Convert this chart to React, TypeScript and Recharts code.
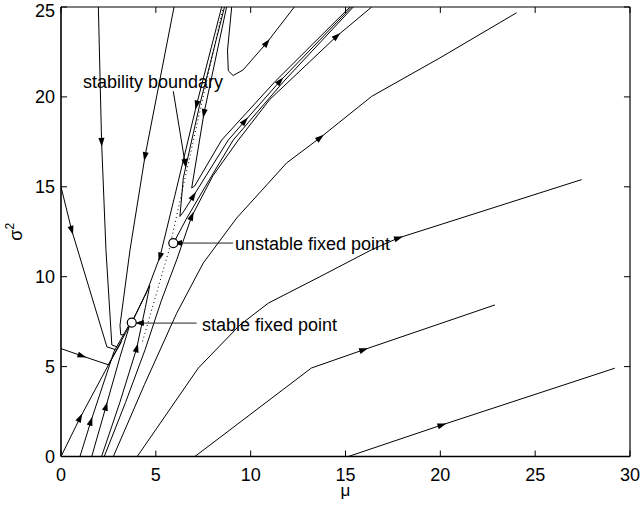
import { ComposedChart, Line, Scatter, XAxis, YAxis, ReferenceLine } from 'recharts';

// trajectories in (mu, sigma^2), listed in the direction of flow; a third value 1 marks an arrow
const fromOrigin = [[0, 0], [1.0, 2.14, 1], [3.62, 7.3]];
const fromMu1 = [[1.0, 0], [1.57, 1.94, 1], [2.8, 5.85], [3.55, 7.25]];
const fromMu16 = [[1.62, 0], [2.37, 2.77, 1], [3.1, 5.5], [3.62, 7.3]];
const loopTraj = [[2.14, 0], [3.1, 3.0], [3.99, 6.02, 1], [4.45, 8.3], [4.68, 9.5], [4.6, 9.35], [3.8, 7.6]];
const feeder = [[2.28, 0], [3.4, 3.0], [4.43, 5.93], [5.3, 8.7], [6.1, 10.94], [6.89, 13.35, 1], [8.0, 15.6], [9.35, 17.6], [11.0, 19.85], [14.53, 23.37, 1], [16.38, 25]];
const leftEdge15 = [[0, 15], [0.56, 12.6, 1], [2.42, 6.1], [2.85, 5.95]];
const leftEdge6 = [[0, 6], [1.09, 5.6, 1], [2.5, 5.1], [3.2, 6.4]];
const topMu2 = [[1.97, 25], [2.14, 17.5, 1], [2.37, 11.5], [2.68, 6.2], [2.95, 6.1]];
const topMu6 = [[5.96, 25], [4.43, 16.7, 1], [3.64, 11.5], [3.11, 7.3], [3.15, 6.77], [3.37, 6.77]];
const channelLeft = [[8.47, 25], [7.15, 19.57, 1], [6.0, 14.5], [5.22, 11.12, 1], [4.5, 9.1], [3.73, 7.45]];
const channelRight = [[8.73, 25], [7.54, 19.1, 1], [6.89, 14.93], [7.05, 15.05], [8.47, 17.6], [11.3, 20.87], [15.23, 25]];
const cuspTraj = [[8.62, 25], [7.3, 19.5], [6.45, 15.5], [6.27, 13.35], [6.45, 13.6], [6.97, 14.47, 1], [8.82, 17.6], [9.68, 18.64, 1], [11.54, 20.87, 1], [15.32, 25]];
const unstableBranch = [[6.05, 12.1], [6.6, 13.2], [7.6, 15.0], [9.08, 17.6], [11.75, 20.87], [15.41, 25]];
const hyperbola = [[9.0, 25], [8.78, 22.6], [8.82, 21.45], [9.08, 21.19], [9.6, 21.5], [10.84, 23.0, 1], [12.3, 25]];
const midRight = [[2.76, 0], [4.4, 4.0], [6.1, 7.97], [7.5, 10.76], [9.26, 13.26], [11.9, 16.33], [13.65, 17.72, 1], [16.38, 20.03], [19.98, 22.17], [24.02, 24.68]];
const lowRight1 = [[4.02, 0], [7.24, 4.92], [9.44, 7.32], [10.93, 8.53], [13.65, 10.0], [16.38, 11.5], [17.78, 12.15, 1], [27.45, 15.4]];
const lowRight2 = [[7.06, 0], [13.2, 4.92], [15.94, 5.93, 1], [22.88, 8.43]];
const lowRight3 = [[15.15, 0], [20.07, 1.75, 1], [29.2, 4.91]];
const boundary = [[4.3, 6.4], [5.7, 11.5], [8.55, 25]];

const trajectories = [
  fromOrigin, fromMu1, fromMu16, loopTraj, feeder, leftEdge15, leftEdge6, topMu2, topMu6,
  channelLeft, channelRight, cuspTraj, unstableBranch, hyperbola, midRight, lowRight1, lowRight2, lowRight3,
];

const stablePoint = [[3.73, 7.45]];
const unstablePoint = [[5.92, 11.87]];

// annotation pointers (arrow at the end)
const pointerBoundary = [[5.92, 20.31], [6.54, 16.33, 1]];
const pointerUnstable = [[9.07, 11.87], [6.17, 11.87, 1]];
const pointerStable = [[7.15, 7.42], [4.16, 7.42, 1]];

const labels = [
  { x: 1.16, y: 20.5, text: 'stability boundary' },
  { x: 9.17, y: 11.5, text: 'unstable fixed point' },
  { x: 7.43, y: 7.0, text: 'stable fixed point' },
];

const xTicks = [0, 5, 10, 15, 20, 25, 30];
const yTicks = [0, 5, 10, 15, 20, 25];

const toPts = (arr: number[][]) => arr.map(([x, y, a]) => ({ x, y, arrow: a === 1 }));

const FONT = 'Liberation Sans, Arial, Helvetica, sans-serif';

const ArrowDot = (props: any) => {
  const { cx, cy, index, points, payload } = props;
  if (!payload || !payload.arrow || !points) return <g />;
  const prev = points[Math.max(0, index - 1)];
  const next = points[Math.min(points.length - 1, index + 1)];
  const ang = Math.atan2(next.y - prev.y, next.x - prev.x);
  const c = Math.cos(ang);
  const s = Math.sin(ang);
  const tip = [cx + 5 * c, cy + 5 * s];
  const b1 = [cx - 4 * c - 3 * s, cy - 4 * s + 3 * c];
  const b2 = [cx - 4 * c + 3 * s, cy - 4 * s - 3 * c];
  return <polygon points={`${tip[0]},${tip[1]} ${b1[0]},${b1[1]} ${b2[0]},${b2[1]}`} fill='#000' stroke='none' />;
};

const CircleShape = (props: any) => (
  <circle cx={props.cx} cy={props.cy} r={4.5} fill='#fff' stroke='#000' strokeWidth={1.2} />
);

const LabelShape = (props: any) => (
  <text x={props.cx} y={props.cy} fontSize={18} fontFamily={FONT} fill='#000'>
    {props.payload.text}
  </text>
);

const XLabel = (props: any) => {
  const vb = props.viewBox;
  return (
    <text x={vb.x + vb.width / 2} y={vb.y + 39} textAnchor='middle' fontSize={17} fontFamily={FONT}>
      μ
    </text>
  );
};

const YLabel = (props: any) => {
  const vb = props.viewBox;
  const x = vb.x + 22;
  const y = vb.y + vb.height / 2;
  return (
    <text x={x} y={y} transform={`rotate(-90 ${x} ${y})`} textAnchor='middle' fontSize={18} fontFamily={FONT}>
      σ<tspan fontSize={12} dy={-8}>2</tspan>
    </text>
  );
};

export default function App() {
  const tickLenY = 0.33;
  const tickLenX = 0.32;
  return (
    <div style={{ position: 'absolute', left: 0, top: 0, background: '#fff' }}>
      <ComposedChart width={642} height={506} margin={{ top: 7, right: 12, bottom: 0, left: 0 }}>
        <XAxis
          type='number'
          dataKey='x'
          domain={[0, 30]}
          ticks={xTicks}
          allowDataOverflow
          height={49.5}
          tickSize={0}
          tickMargin={12}
          tickLine={false}
          axisLine={{ stroke: '#000', strokeWidth: 1.6 }}
          tick={{ fill: '#000', fontSize: 18, fontFamily: FONT }}
          label={<XLabel />}
        />
        <YAxis
          type='number'
          dataKey='y'
          domain={[0, 25]}
          ticks={yTicks}
          allowDataOverflow
          width={61}
          tickSize={0}
          tickMargin={6}
          tickLine={false}
          axisLine={{ stroke: '#000', strokeWidth: 1.6 }}
          tick={{ fill: '#000', fontSize: 18, fontFamily: FONT }}
          label={<YLabel />}
        />
        <ReferenceLine y={25} stroke='#000' strokeWidth={1.2} />
        <ReferenceLine x={30} stroke='#000' strokeWidth={1.2} />
        {xTicks.map((t) => (
          <ReferenceLine key={`xb${t}`} segment={[{ x: t, y: 0 }, { x: t, y: tickLenY }]} stroke='#000' />
        ))}
        {xTicks.map((t) => (
          <ReferenceLine key={`xt${t}`} segment={[{ x: t, y: 25 }, { x: t, y: 25 - tickLenY }]} stroke='#000' />
        ))}
        {yTicks.map((t) => (
          <ReferenceLine key={`yl${t}`} segment={[{ x: 0, y: t }, { x: tickLenX, y: t }]} stroke='#000' />
        ))}
        {yTicks.map((t) => (
          <ReferenceLine key={`yr${t}`} segment={[{ x: 30, y: t }, { x: 30 - tickLenX, y: t }]} stroke='#000' />
        ))}
        <Line
          data={toPts(boundary)}
          dataKey='y'
          stroke='#000'
          strokeWidth={1}
          strokeDasharray='1 3'
          dot={false}
          isAnimationActive={false}
        />
        {trajectories.map((tr, i) => (
          <Line
            key={`tr${i}`}
            data={toPts(tr)}
            dataKey='y'
            stroke='#000'
            strokeWidth={1}
            dot={<ArrowDot />}
            activeDot={false}
            isAnimationActive={false}
          />
        ))}
        {[pointerBoundary, pointerUnstable, pointerStable].map((p, i) => (
          <Line
            key={`pt${i}`}
            data={toPts(p)}
            dataKey='y'
            stroke={i === 0 ? '#000' : '#222'}
            strokeWidth={1}
            dot={<ArrowDot />}
            activeDot={false}
            isAnimationActive={false}
          />
        ))}
        <Scatter data={toPts(stablePoint)} shape={<CircleShape />} isAnimationActive={false} />
        <Scatter data={toPts(unstablePoint)} shape={<CircleShape />} isAnimationActive={false} />
        <Scatter data={labels} shape={<LabelShape />} isAnimationActive={false} />
      </ComposedChart>
    </div>
  );
}
